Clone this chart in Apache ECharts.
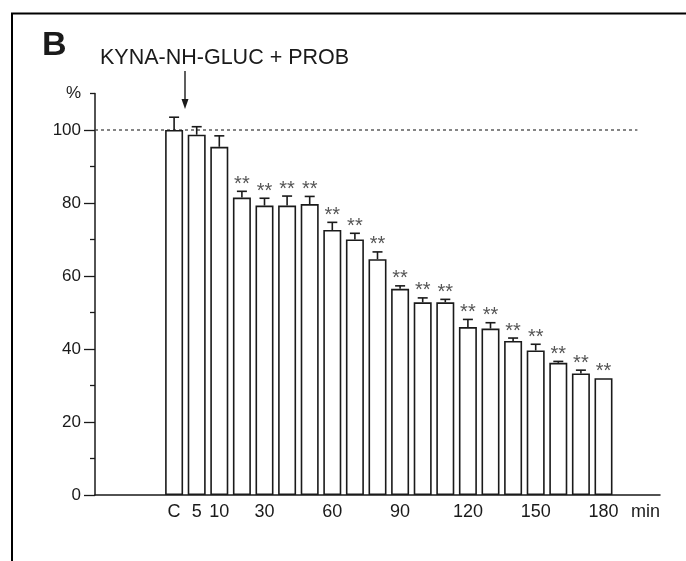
<!DOCTYPE html>
<html>
<head>
<meta charset="utf-8">
<script src="https://cdn.jsdelivr.net/npm/echarts@6/dist/echarts.min.js"></script>
<style>
  html, body { margin: 0; padding: 0; background: #fff; }
  #chart { width: 686px; height: 561px; }
</style>
</head>
<body>
<div id="chart"></div>
<script>
// Sampling times (min) after KYNA-NH-GLUC + probenecid; "C" is the control sample
const times = ['C', '5', '10', '20', '30', '40', '50', '60', '70', '80', '90',
               '100', '110', '120', '130', '140', '150', '160', '170', '180'];
// Times that carry a label on the x axis
const tickLabels = ['C', '5', '10', '30', '60', '90', '120', '150', '180'];
// Mean response, % of control
const meanPct = [100, 98.7, 95.4, 81.5, 79.3, 79.3, 79.7, 72.6, 70.0, 64.6, 56.5,
                 52.8, 52.8, 46.0, 45.6, 42.2, 39.6, 36.2, 33.3, 32.0];
// Standard error of the mean, % of control
const semPct = [3.5, 2.2, 3.0, 1.7, 2.0, 2.6, 2.1, 2.1, 1.7, 2.0, 0.8,
                1.2, 0.8, 2.1, 1.6, 0.8, 1.7, 0.4, 0.9, 0];
// Significance versus control
const signif = ['', '', '', '**', '**', '**', '**', '**', '**', '**', '**',
                '**', '**', '**', '**', '**', '**', '**', '**', '**'];
// y-axis ticks
const yMajorTicks = [0, 20, 40, 60, 80, 100];
const yMinorTicks = [10, 30, 50, 70, 90, 110];
const yMax = 110;
const controlLevel = 100;

const FONT = "'Liberation Sans', Arial, Helvetica, sans-serif";
const INK = '#1a1a1a';

// empty slots on the category axis before the first and after the last sample
const leadSlots = 3, trailSlots = 2;
const slotNames = [];
for (let i = 0; i < leadSlots; i++) slotNames.push('lead' + i);
const axisCats = slotNames.concat(times);
for (let i = 0; i < trailSlots; i++) axisCats.push('trail' + i);

const barData = axisCats.map(c => {
  const k = times.indexOf(c);
  return k >= 0 ? meanPct[k] : null;
});
const errData = times.map((t, k) => [leadSlots + k, meanPct[k], semPct[k]]);

const chart = echarts.init(document.getElementById('chart'), null, { renderer: 'canvas' });

function renderError(params, api) {
  const idx = api.value(0), m = api.value(1), e = api.value(2);
  const base = api.coord([idx, m]);
  const top = api.coord([idx, m + e]);
  const half = 5;
  const children = [];
  const st = { stroke: INK, lineWidth: 1.6 };
  if (e > 0) {
    children.push({ type: 'line', shape: { x1: base[0], y1: base[1], x2: top[0], y2: top[1] }, style: st });
    children.push({ type: 'line', shape: { x1: top[0] - half, y1: top[1], x2: top[0] + half, y2: top[1] }, style: st });
  }
  const mark = signif[params.dataIndex];
  if (mark) {
    children.push({
      type: 'text',
      style: {
        text: mark, x: top[0], y: top[1] - 17,
        align: 'center', verticalAlign: 'top',
        fill: '#555', font: '20px ' + FONT
      }
    });
  }
  return { type: 'group', children };
}

function renderRefLine(params, api) {
  const lvl = api.value(1);
  const y = api.coord([0, lvl])[1];
  const x0 = params.coordSys.x;
  const x1 = api.coord([api.value(0), lvl])[0] + api.size([1, 0])[0] / 2;
  return {
    type: 'line',
    shape: { x1: x0, y1: y, x2: x1, y2: y },
    style: { stroke: '#444', lineWidth: 1.3, lineDash: [3, 3] }
  };
}

const option = {
  animation: false,
  backgroundColor: '#fff',
  grid: { left: 95, right: 26, top: 93.5, bottom: 66 },
  xAxis: {
    type: 'category',
    data: axisCats,
    boundaryGap: true,
    axisLine: { lineStyle: { color: INK, width: 1.5 } },
    axisTick: { show: false },
    axisLabel: {
      interval: 0, margin: 8, color: INK, fontSize: 18, fontFamily: FONT,
      formatter: v => (tickLabels.indexOf(v) >= 0 ? v : '')
    },
    name: 'min',
    nameLocation: 'end',
    nameGap: 0,
    nameTextStyle: { color: INK, fontSize: 18, fontFamily: FONT, align: 'right', verticalAlign: 'top', padding: [8, 0, 0, 0] }
  },
  yAxis: [
    {
      type: 'value', min: 0, max: yMax, interval: 10, position: 'left',
      splitLine: { show: false },
      axisLine: { show: true, lineStyle: { color: INK, width: 1.5 } },
      axisTick: { show: true, customValues: yMinorTicks, length: 5, lineStyle: { color: INK, width: 1.3 } },
      axisLabel: {
        customValues: [yMax], formatter: () => '%', margin: 14,
        color: INK, fontSize: 17, fontFamily: FONT, padding: [0, 0, 8, 0]
      }
    },
    {
      type: 'value', min: 0, max: yMax, interval: 10, position: 'left',
      splitLine: { show: false },
      axisLine: { show: false },
      axisTick: { show: true, customValues: yMajorTicks, length: 11, lineStyle: { color: INK, width: 1.3 } },
      axisLabel: { customValues: yMajorTicks, margin: 14, color: INK, fontSize: 17, fontFamily: FONT }
    }
  ],
  series: [
    {
      type: 'custom',
      name: 'control level',
      renderItem: renderRefLine,
      data: [[leadSlots + times.length, controlLevel]],
      encode: { x: 0, y: 1 },
      silent: true,
      z: 1
    },
    {
      type: 'bar',
      name: 'KYNA-NH-GLUC + PROB',
      data: barData,
      barWidth: 18,
      itemStyle: { color: '#fff', borderColor: INK, borderWidth: 1.6 },
      z: 2
    },
    {
      type: 'custom',
      name: 'SEM',
      renderItem: renderError,
      data: errData,
      encode: { x: 0, y: 1 },
      silent: true,
      z: 3
    }
  ]
};

chart.setOption(option);

// Panel frame, panel letter, treatment caption and the arrow marking the start of treatment
const xC = chart.convertToPixel({ xAxisIndex: 0 }, leadSlots);
const x5 = chart.convertToPixel({ xAxisIndex: 0 }, leadSlots + 1);
const ax = Math.round((xC + x5) / 2);
chart.setOption({
  graphic: [
    { type: 'rect', shape: { x: 12, y: 13.5, width: 720, height: 600 }, style: { fill: null, stroke: '#000', lineWidth: 2 } },
    { type: 'text', style: { text: 'B', x: 42, y: 63, verticalAlign: 'bottom', font: 'bold 34px ' + FONT, fill: INK } },
    { type: 'text', style: { text: 'KYNA-NH-GLUC + PROB', x: 100, y: 69, verticalAlign: 'bottom', font: '21.5px ' + FONT, fill: INK } },
    { type: 'line', shape: { x1: ax, y1: 71, x2: ax, y2: 101 }, style: { stroke: INK, lineWidth: 1.4 } },
    { type: 'polygon', shape: { points: [[ax - 3.5, 99], [ax + 3.5, 99], [ax, 109]] }, style: { fill: INK } }
  ]
});
</script>
</body>
</html>
